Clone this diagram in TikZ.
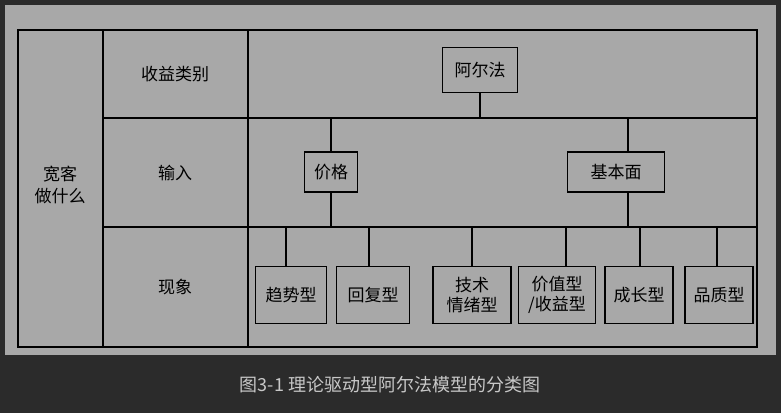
\documentclass[tikz,border=0pt]{standalone}
\usepackage{fontspec}
\newfontfamily\cjk{Noto Sans CJK SC}
\definecolor{bgdark}{HTML}{2B2B2B}
\definecolor{panel}{HTML}{A8A8A8}
\definecolor{captxt}{HTML}{C8C8C8}
\begin{document}
\begin{tikzpicture}[x=1pt,y=-1pt,
  box/.style={draw=black,line width=1.2pt,font=\cjk\fontsize{17}{20}\selectfont,inner sep=0pt,align=center},
  lbl/.style={font=\cjk\fontsize{17}{22}\selectfont,align=center},
  ln/.style={line width=1.2pt}]
\fill[bgdark] (0,0) rectangle (781,413);
\fill[panel] (5,5) rectangle (776,355);
\draw[ln] (18,30) rectangle (757,347);
\draw[ln] (103,30) -- (103,347);
\draw[ln] (248,30) -- (248,347);
\draw[ln] (103,118) -- (757,118);
\draw[ln] (103,227) -- (757,227);
\node[lbl] (w) at (60,185) {宽客\\做什么};
\node[lbl] (r1) at (175,74) {收益类别};
\node[lbl] (r2) at (175,173) {输入};
\node[lbl] (r3) at (175,287) {现象};
\node[box,minimum width=75pt,minimum height=45pt] (a) at (480,70) {阿尔法};
\node[box,minimum width=53pt,minimum height=40pt] (p) at (331,172) {价格};
\node[box,minimum width=97pt,minimum height=40pt] (f) at (616,172) {基本面};
\node[box,minimum width=71pt,minimum height=57pt] (b1) at (291,295) {趋势型};
\node[box,minimum width=73pt,minimum height=57pt] (b2) at (373,295) {回复型};
\node[box,minimum width=78pt,minimum height=57pt] (b3) at (472,295) {技术\\情绪型};
\node[box,minimum width=77pt,minimum height=57pt] (b4) at (557,295) {价值型\\/收益型};
\node[box,minimum width=68pt,minimum height=57pt] (b5) at (639,295) {成长型};
\node[box,minimum width=68pt,minimum height=57pt] (b6) at (719,295) {品质型};
\draw[ln] (a.south) -- (480,118);
\draw[ln] (p.north) -- (331,118) -- (628,118) -- (628,152);
\draw[ln] (p.south) -- (331,227);
\draw[ln] (286,266) -- (286,227) -- (472,227) -- (b3.north);
\draw[ln] (369,227) -- (369,266);
\draw[ln] (628,192) -- (628,227);
\draw[ln] (566,266) -- (566,227) -- (717,227) -- (717,266);
\draw[ln] (640,227) -- (640,266);
\node[font=\cjk\fontsize{18}{22}\selectfont,text=captxt] (cap) at (390,385) {图3-1 理论驱动型阿尔法模型的分类图};
\end{tikzpicture}
\end{document}
